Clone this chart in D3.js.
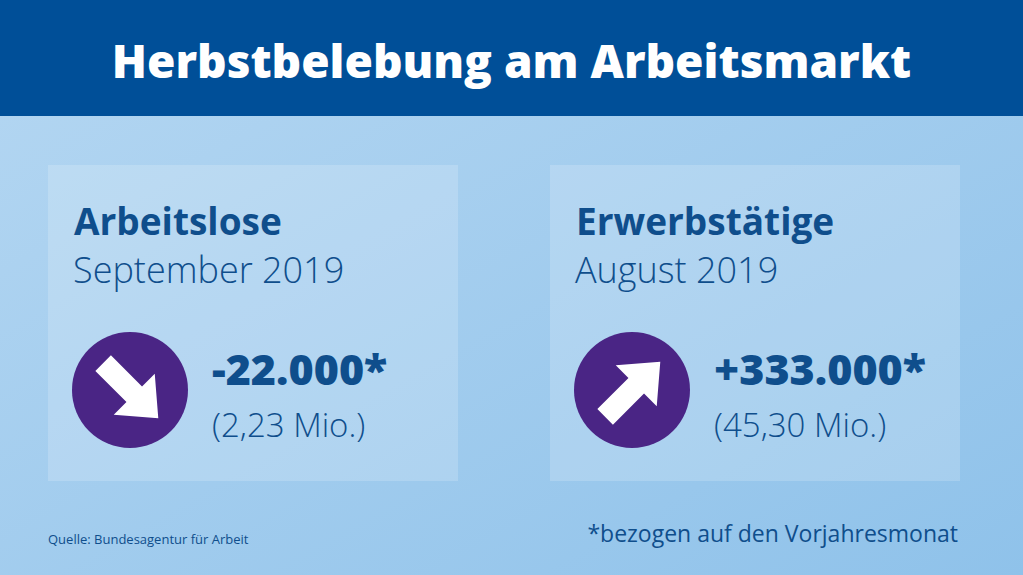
<!DOCTYPE html>
<html><head><meta charset="utf-8">
<script src="https://cdn.jsdelivr.net/npm/d3@7"></script>
<style>body{margin:0;overflow:hidden}</style>
</head><body>
<script>
// panel content
var titles = ["Arbeitslose", "Erwerbstätige"];
var periods = ["September 2019", "August 2019"];
var changes = ["-22.000*", "+333.000*"];
var totals = ["(2,23 Mio.)", "(45,30 Mio.)"];
var directions = [-1, 1]; // down, up

var width = 1023, height = 575;
var svg = d3.select("body").append("svg")
    .attr("width", width).attr("height", height)
    .style("font-family", "'Open Sans', sans-serif");

//background gradient
var defs = svg.append("defs");
var grad = defs.append("linearGradient").attr("id", "bg")
    .attr("x1", 0).attr("y1", 0).attr("x2", 1).attr("y2", 1);
grad.append("stop").attr("offset", "0%").attr("stop-color", "#b5d7f2");
grad.append("stop").attr("offset", "100%").attr("stop-color", "#8fc2ea");
svg.append("rect").attr("width", width).attr("height", height).attr("fill", "url(#bg)");

//header bar
svg.append("rect").attr("width", width).attr("height", 116).attr("fill", "#004f98");
svg.append("text").attr("x", width / 2).attr("y", 78)
    .attr("text-anchor", "middle").attr("fill", "#fff")
    .attr("font-size", 46).attr("font-weight", 800)
    .text("Herbstbelebung am Arbeitsmarkt");

var x = d3.scalePoint().domain(d3.range(titles.length)).range([48, 550]);

var panels = svg.selectAll(".panel").data(titles).enter()
    .append("g").attr("class", "panel")
    .attr("transform", function(d, i){ return "translate(" + x(i) + ",165)"; });

panels.append("rect").attr("width", 410).attr("height", 316)
    .attr("fill", "#ffffff").attr("opacity", 0.18);

panels.append("text").attr("x", 26).attr("y", 70)
    .attr("fill", "#0f4e8c").attr("font-size", 37).attr("font-weight", 700)
    .text(function(d){ return d; });
panels.append("text").attr("x", 25).attr("y", 118)
    .attr("fill", "#0f4e8c").attr("font-size", 36).attr("font-weight", 300)
    .text(function(d, i){ return periods[i]; });

panels.append("circle").attr("cx", 82).attr("cy", 225).attr("r", 58).attr("fill", "#4a2585");

var arrow = "M-38,-11 L6,-11 L6,-29 L40,0 L6,29 L6,11 L-38,11 Z";
panels.append("path").attr("d", arrow).attr("fill", "#fff")
    .attr("transform", function(d, i){
        return "translate(82,225) rotate(" + (directions[i] < 0 ? 45 : -45) + ")";
    });

panels.append("text").attr("x", 164).attr("y", 220)
    .attr("fill", "#0f4e8c").attr("font-size", 43).attr("font-weight", 800)
    .text(function(d, i){ return changes[i]; });
panels.append("text").attr("x", 164).attr("y", 272)
    .attr("fill", "#0f4e8c").attr("font-size", 33).attr("font-weight", 300)
    .text(function(d, i){ return totals[i]; });

svg.append("text").attr("x", 48).attr("y", 544)
    .attr("fill", "#0f4e8c").attr("font-size", 13)
    .text("Quelle: Bundesagentur für Arbeit");
svg.append("text").attr("x", 958).attr("y", 542).attr("text-anchor", "end")
    .attr("fill", "#0f4e8c").attr("font-size", 23)
    .text("*bezogen auf den Vorjahresmonat");
</script>
</body></html>
